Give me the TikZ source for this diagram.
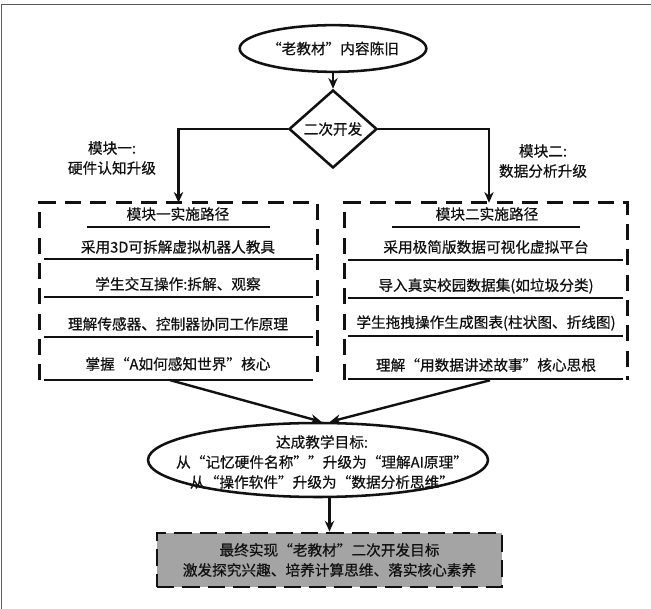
\documentclass[tikz,border=0pt]{standalone}
\usepackage{fontspec}
\setmainfont{Noto Sans CJK SC}[FakeBold=0.5]
\usepackage{tikz}
\usetikzlibrary{positioning, arrows.meta, shapes.geometric}
\definecolor{ink}{HTML}{111111}
\definecolor{framegray}{HTML}{5A5A5A}
\definecolor{finalgray}{HTML}{A4A4A4}
\tikzset{
  cjk text/.style={
    font=\fontsize{11pt}{15pt}\selectfont,
    text=ink,
    align=center,
    inner sep=0pt
  },
  start ellipse/.style={
    ellipse, draw=ink, line width=1.9pt,
    minimum width=132pt, minimum height=35pt,
    cjk text
  },
  dev diamond/.style={
    diamond, draw=ink, line width=1.9pt,
    minimum width=66pt, minimum height=58.5pt,
    inner sep=0pt
  },
  flow arrow/.style={
    -{Stealth[length=8pt, width=7pt]},
    line width=1.8pt,
    draw=ink
  },
  module box/.style={draw=none, inner sep=0pt},
  module label/.style={cjk text},
  dash line/.style={line width=2.2pt, draw=ink, dash pattern=on 12pt off 7pt},
  path title/.style={cjk text},
  path item/.style={cjk text},
  path rule/.style={line width=2.2pt, draw=ink},
  goal ellipse/.style={
    ellipse, draw=ink, line width=1.9pt,
    minimum width=255pt, minimum height=55.5pt,
    inner sep=0pt
  },
  final block/.style={
    draw=ink, fill=finalgray, line width=2.2pt,
    dash pattern=on 13pt off 6pt,
    minimum width=258.75pt, minimum height=40.5pt,
    cjk text
  }
}
\begin{document}
\begin{tikzpicture}[x=0.75pt, y=-0.75pt]
  \useasboundingbox (0,0) rectangle (651,609);
  \draw[framegray, line width=1.2pt] (1.5,609) -- (1.5,4.5) -- (651,4.5);

  \node[start ellipse] (old) at (333,48.5) {“老教材”内容陈旧};
  \node[dev diamond, label={[cjk text]center:二次开发}] (dev) at (333,129) {};
  \node[module label] (mod1lbl) at (112,158) {模块一:\\硬件认知升级};
  \node[module label] (mod2lbl) at (543,161) {模块二:\\数据分析升级};

  % two module frames
  \node[module box, minimum width=207.75pt, minimum height=132.75pt] (mod1) at (178.5,291.5) {};
  \node[module box, minimum width=211.5pt, minimum height=132.75pt] (mod2) at (486,291.5) {};
  \draw[dash line] (mod1.south west) |- (mod1.north east) -- (mod1.south east);
  \draw[dash line] (mod2.south west) |- (mod2.north east) -- (mod2.south east);

  \node[path title] (t1) at (178,214) {模块一实施路径};
  \node[path item] (a1) at (178,247) {采用3D可拆解虚拟机器人教具};
  \node[path item] (a2) at (178,284) {学生交互操作:拆解、观察};
  \node[path item] (a3) at (178,324) {理解传感器、控制器协同工作原理};
  \node[path item] (a4) at (178,364) {掌握“A如何感知世界”核心};

  \node[path title] (t2) at (487,214) {模块二实施路径};
  \node[path item] (b1) at (486,247) {采用极简版数据可视化虚拟平台};
  \node[path item] (b2) at (486,286) {导入真实校园数据集(如垃圾分类)};
  \node[path item] (b3) at (486,323) {学生拖拽操作生成图表(柱状图、折线图)};
  \node[path item] (b4) at (486,365) {理解“用数据讲述故事”核心思根};

  \draw[path rule] (87,227) -- (270,227);
  \draw[path rule] (392,227) -- (580,227);
  \foreach \y in {259,297,337,380} \draw[path rule] (44,\y) -- (313,\y);
  \foreach \y in {260,298,336,379} \draw[path rule] (348,\y) -- (623,\y);

  \node[goal ellipse] (goal) at (318,460) {};
  \node[cjk text] (goaltxt) at (322,462) {达成教学目标:\\从“记忆硬件名称””升级为“理解AI原理”\\从“操作软件”升级为“数据分析思维”};
  \node[final block] (final) at (329.5,560) {最终实现“老教材”二次开发目标\\激发探究兴趣、培养计算思维、落实核心素养};

  \draw[flow arrow] (old) -- (dev);
  \draw[flow arrow] (dev.west) -| (mod1.north);
  \draw[flow arrow] (dev.east) -| ([xshift=2.25pt]mod2.north);
  \draw[flow arrow] ([xshift=-6pt]mod1.south) -- ([xshift=2.5pt]goal.north);
  \draw[flow arrow] ([xshift=3pt]mod2.south) -- ([xshift=9pt]goal.north);
  \draw[flow arrow] (final.north |- goal.south) -- (final.north);
\end{tikzpicture}
\end{document}
